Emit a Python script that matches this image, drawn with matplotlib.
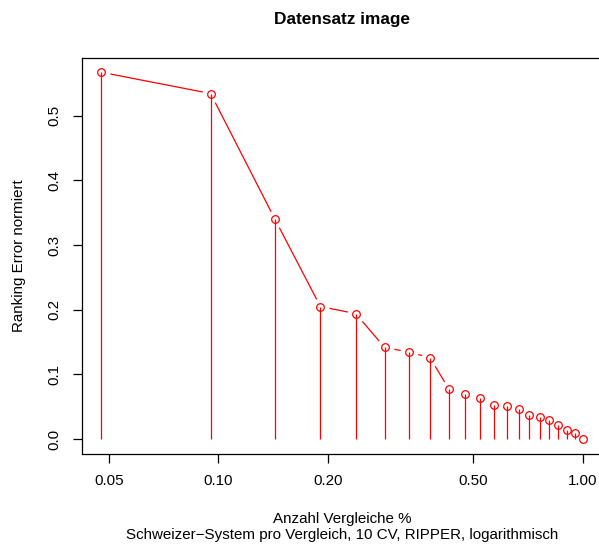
import numpy as np
import matplotlib
matplotlib.use("Agg")
import matplotlib.pyplot as plt
from matplotlib.ticker import FixedLocator, FixedFormatter, NullLocator

plt.rcParams["font.family"] = ["Liberation Sans", "DejaVu Sans"]

# --- Data ---
anteil_vergleiche = [0.0476, 0.0952, 0.1429, 0.1905, 0.2381, 0.2857, 0.3333,
                     0.3810, 0.4286, 0.4762, 0.5238, 0.5714, 0.6190, 0.6667,
                     0.7143, 0.7619, 0.8095, 0.8571, 0.9048, 0.9524, 1.0000]
ranking_error = [0.567, 0.534, 0.340, 0.205, 0.194, 0.142, 0.1345,
                 0.126, 0.078, 0.070, 0.063, 0.0535, 0.0515, 0.046,
                 0.038, 0.0345, 0.029, 0.0215, 0.015, 0.0095, 0.0]

x_ticks = [0.05, 0.10, 0.20, 0.50, 1.00]
x_tick_labels = ["0.05", "0.10", "0.20", "0.50", "1.00"]
y_ticks = [0.0, 0.1, 0.2, 0.3, 0.4, 0.5]
y_tick_labels = ["0.0", "0.1", "0.2", "0.3", "0.4", "0.5"]

W, H = 599, 547
BASE = 10.9  # font size in pt

fig = plt.figure(figsize=(W / 100, H / 100), dpi=100)
ax = fig.add_axes([81.7 / W, 1 - 453.9 / H, (602 - 81.7) / W, (453.9 - 57.5) / H])
ax.set_xscale("log")

red = "#FF0000"
lw = 0.9
# type="b": line with gaps around the points
ax.plot(anteil_vergleiche, ranking_error, color=red, lw=lw, zorder=2)
ax.plot(anteil_vergleiche, ranking_error, "o", ms=13, mfc="white", mec="none", zorder=3)
# type="h": vertical lines from 0
ax.vlines(anteil_vergleiche, 0, ranking_error, color=red, lw=lw, zorder=4)
ax.plot(anteil_vergleiche, ranking_error, "o", ms=5.5, mfc="none", mec=red, mew=lw, zorder=5)

# R-style 4% axis padding
lx = np.log10(anteil_vergleiche)
span = lx.max() - lx.min()
ax.set_xlim(10 ** (lx.min() - 0.04 * span), 10 ** (lx.max() + 0.04 * span))
ymin, ymax = min(ranking_error), max(ranking_error)
ax.set_ylim(ymin - 0.04 * (ymax - ymin), ymax + 0.04 * (ymax - ymin))

ax.xaxis.set_major_locator(FixedLocator(x_ticks))
ax.xaxis.set_major_formatter(FixedFormatter(x_tick_labels))
ax.xaxis.set_minor_locator(NullLocator())
ax.yaxis.set_major_locator(FixedLocator(y_ticks))
ax.yaxis.set_major_formatter(FixedFormatter(y_tick_labels))
for lab in ax.get_yticklabels():
    lab.set_rotation(90)
    lab.set_va("center")

ax.tick_params(direction="out", length=6.8, width=lw, labelsize=BASE, pad=7.5, colors="black")
for s in ax.spines.values():
    s.set_linewidth(lw)
ax.spines["right"].set_visible(False)

fig.text(341.9 / W, 1 - 19.5 / H, "Datensatz image", ha="center", va="center",
         fontsize=12.4, fontweight="bold")
fig.text(341.9 / W, 1 - 519 / H, "Anzahl Vergleiche %", ha="center", va="center", fontsize=BASE)
fig.text(341.9 / W, 1 - 535 / H, "Schweizer\u2212System pro Vergleich, 10 CV, RIPPER, logarithmisch",
         ha="center", va="center", fontsize=BASE)
fig.text(19.5 / W, 1 - 255.7 / H, "Ranking Error normiert", ha="center", va="center",
         rotation=90, fontsize=BASE)

fig.savefig("out.png", dpi=100)
